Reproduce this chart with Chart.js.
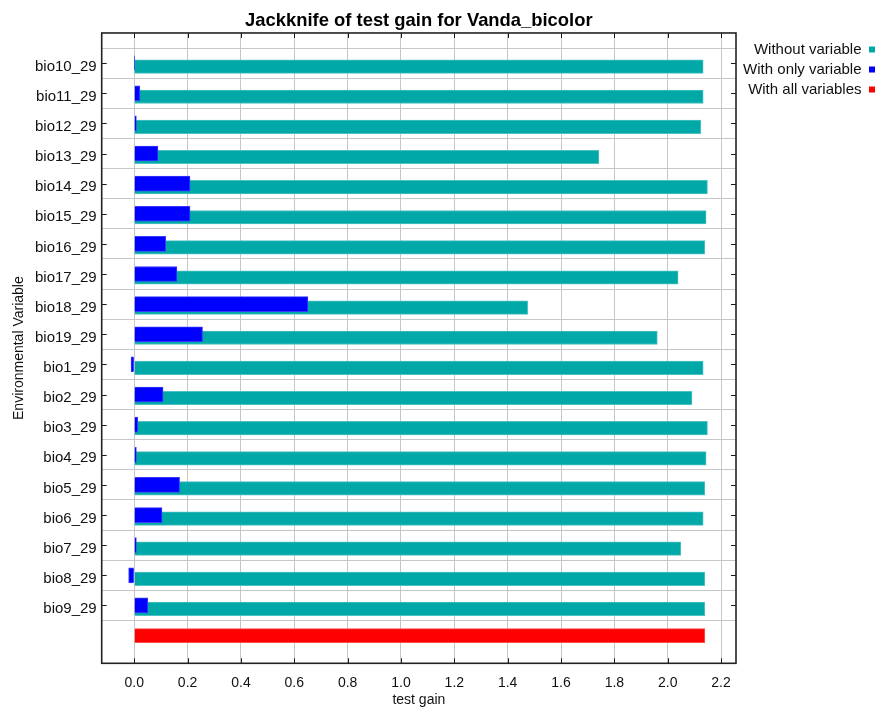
<!DOCTYPE html>
<html>
<head>
<meta charset="utf-8">
<title>Jackknife of test gain for Vanda_bicolor</title>
<script src="https://cdn.jsdelivr.net/npm/chart.js@4/dist/chart.umd.min.js"></script>
<style>
  html, body { margin: 0; padding: 0; background: #ffffff; }
  #wrap { width: 880px; height: 709px; position: relative; }
</style>
</head>
<body>
<div id="wrap"><canvas id="chart"></canvas></div>
<script>
// Environmental variables, top to bottom
const variables = [
  'bio10_29', 'bio11_29', 'bio12_29', 'bio13_29', 'bio14_29', 'bio15_29', 'bio16_29',
  'bio17_29', 'bio18_29', 'bio19_29', 'bio1_29', 'bio2_29', 'bio3_29', 'bio4_29',
  'bio5_29', 'bio6_29', 'bio7_29', 'bio8_29', 'bio9_29'
];

// Test gain of the model built without each variable
const withoutVariable = [
  2.133, 2.133, 2.124, 1.742, 2.149, 2.144, 2.139,
  2.039, 1.475, 1.961, 2.133, 2.091, 2.149, 2.144,
  2.139, 2.133, 2.049, 2.139, 2.139
];

// Test gain of the model built with only each variable
const withOnlyVariable = [
  0.001, 0.021, 0.008, 0.089, 0.209, 0.209, 0.118,
  0.160, 0.651, 0.256, -0.012, 0.108, 0.013, 0.008,
  0.170, 0.104, 0.008, -0.021, 0.051
];

// Test gain of the full model
const withAllVariables = [2.139];

// Gain axis tick values
const gainTicks = [0.0, 0.2, 0.4, 0.6, 0.8, 1.0, 1.2, 1.4, 1.6, 1.8, 2.0, 2.2];

const FONT = "'Liberation Sans', Arial, Helvetica, sans-serif";
const TEXT = '#111111';
const GRID = '#c6c6c6';

// Plot frame with short inward tick marks on all four sides
const frameTicks = {
  id: 'frameTicks',
  afterDatasetsDraw(chart) {
    const { ctx, chartArea: a, scales } = chart;
    const x = scales.x, y = scales.y;
    ctx.save();
    ctx.strokeStyle = '#1a1a1a';
    ctx.lineWidth = 1;
    ctx.beginPath();
    x.ticks.forEach(t => {
      const px = Math.round(x.getPixelForValue(t.value)) + 0.5;
      ctx.moveTo(px, a.top); ctx.lineTo(px, a.top + 5);
      ctx.moveTo(px, a.bottom); ctx.lineTo(px, a.bottom - 5);
    });
    y.ticks.forEach(t => {
      const py = Math.round(y.getPixelForValue(t.value)) + 0.5;
      ctx.moveTo(a.left, py); ctx.lineTo(a.left + 5, py);
      ctx.moveTo(a.right, py); ctx.lineTo(a.right - 5, py);
    });
    ctx.stroke();
    ctx.lineWidth = 1.6;
    ctx.strokeStyle = '#222222';
    ctx.strokeRect(a.left, a.top, a.right - a.left, a.bottom - a.top);
    ctx.restore();
  }
};

const rowIndex = variables.map((_, i) => i);

new Chart(document.getElementById('chart'), {
  type: 'bar',
  data: {
    datasets: [
      {
        label: 'Without variable',
        data: rowIndex.map(i => ({ x: withoutVariable[i], y: i })),
        backgroundColor: '#00a8a8',
        borderColor: '#4cc2c2',
        borderWidth: 1,
        borderSkipped: 'start',
        barThickness: 13.5,
        grouped: false,
        order: 1,
        yAxisID: 'yBars'
      },
      {
        label: 'With only variable',
        data: rowIndex.map(i => ({ x: withOnlyVariable[i], y: i })),
        backgroundColor: '#0000ff',
        borderColor: '#3a3aff',
        borderWidth: 1,
        borderSkipped: 'start',
        barThickness: 15,
        grouped: false,
        order: 0,
        yAxisID: 'y'
      },
      {
        label: 'With all variables',
        data: withAllVariables.map(v => ({ x: v, y: variables.length })),
        backgroundColor: '#ff0000',
        borderColor: '#ff4a4a',
        borderWidth: 1,
        borderSkipped: 'start',
        barThickness: 14,
        grouped: false,
        order: 2,
        yAxisID: 'y'
      }
    ]
  },
  options: {
    indexAxis: 'y',
    responsive: true,
    maintainAspectRatio: false,
    animation: false,
    devicePixelRatio: 1,
    layout: { padding: 0 },
    plugins: {
      tooltip: { enabled: false },
      title: {
        display: true,
        fullSize: false,
        text: 'Jackknife of test gain for Vanda_bicolor',
        color: '#000000',
        font: { family: FONT, size: 18.4, weight: 'bold' },
        padding: { top: 9.8, bottom: 1.1 }
      },
      legend: {
        display: true,
        position: 'right',
        align: 'start',
        rtl: true,
        maxWidth: 144,
        title: { display: true, text: '', padding: { top: 34, bottom: 0 }, font: { size: 2.5 } },
        labels: {
          boxWidth: 6,
          boxHeight: 6,
          padding: 5,
          color: TEXT,
          font: { family: FONT, size: 15 },
          sort: (a, b) => a.datasetIndex - b.datasetIndex,
          generateLabels(chart) {
            return Chart.defaults.plugins.legend.labels.generateLabels(chart)
              .map(item => Object.assign(item, { lineWidth: 0 }));
          }
        }
      }
    },
    scales: {
      x: {
        type: 'linear',
        min: -0.122,
        max: 2.256,
        afterBuildTicks(scale) { scale.ticks = gainTicks.map(v => ({ value: v })); },
        afterFit(scale) { scale.height = 45.7; },
        ticks: {
          autoSkip: false,
          maxRotation: 0,
          padding: 11,
          color: TEXT,
          font: { family: FONT, size: 14 },
          callback: v => Number(v).toFixed(1)
        },
        grid: { color: GRID, lineWidth: 1, drawTicks: false },
        border: { display: false },
        title: {
          display: true,
          text: 'test gain',
          color: TEXT,
          font: { family: FONT, size: 14 },
          padding: { top: 0, bottom: 0 }
        }
      },
      y: {
        type: 'linear',
        reverse: true,
        offset: false,
        min: -1,
        max: 19.92,
        afterBuildTicks(scale) { scale.ticks = rowIndex.map(i => ({ value: i })); },
        afterFit(scale) { scale.width = 101.7; },
        ticks: {
          autoSkip: false,
          padding: 5,
          labelOffset: 3.5,
          color: TEXT,
          font: { family: FONT, size: 15 },
          callback: v => variables[v] ?? ''
        },
        grid: { color: GRID, lineWidth: 1, drawTicks: false },
        border: { display: false },
        title: {
          display: true,
          text: 'Environmental Variable',
          color: TEXT,
          font: { family: FONT, size: 14 },
          padding: { top: 10.6, bottom: 0 }
        }
      },
      // the paired bars sit a few pixels below each row line
      yBars: {
        type: 'linear',
        position: 'left',
        reverse: true,
        offset: false,
        min: -1.116,
        max: 19.804,
        afterFit(scale) { scale.width = 0; },
        ticks: { display: false },
        grid: { display: false },
        border: { display: false },
        title: { display: false }
      }
    }
  },
  plugins: [frameTicks]
});
</script>
</body>
</html>
